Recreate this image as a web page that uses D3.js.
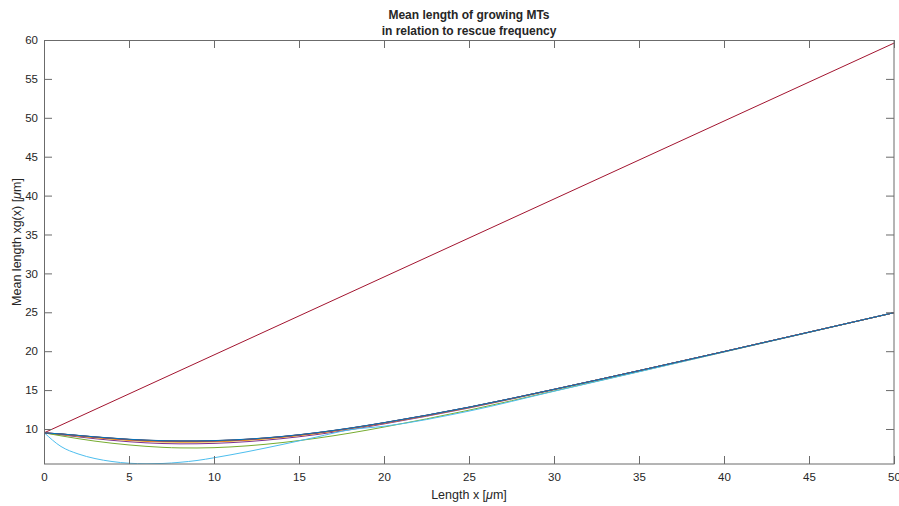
<!DOCTYPE html>
<html>
<head>
<meta charset="utf-8">
<script src="https://cdn.jsdelivr.net/npm/d3@7"></script>
<style>
  body { margin: 0; background: #fff; }
  svg text { font-family: "Liberation Sans", Arial, sans-serif; fill: #262626; }
</style>
</head>
<body>
<div id="chart"></div>
<script>
// x positions (um) where curves were read
var xs = [0, 1, 2, 3, 4, 5, 6, 7, 8, 9, 10, 12, 14, 16, 18, 20, 25, 30, 35, 40, 45, 50];
// mean length for each rescue frequency
var blue1   = [9.5, 9.36, 9.17, 8.98, 8.81, 8.66, 8.55, 8.48, 8.45, 8.45, 8.49, 8.68, 9.02, 9.5, 10.1, 10.8, 12.8, 15.1, 17.5, 19.95, 22.45, 24.95];
var orange1 = [9.5, 9.33, 9.13, 8.93, 8.75, 8.6, 8.48, 8.41, 8.38, 8.38, 8.42, 8.62, 8.97, 9.45, 10.06, 10.77, 12.78, 15.09, 17.5, 19.95, 22.45, 24.95];
var yellow1 = [9.5, 9.3, 9.08, 8.87, 8.68, 8.52, 8.4, 8.32, 8.29, 8.3, 8.34, 8.55, 8.91, 9.4, 10.02, 10.74, 12.76, 15.08, 17.5, 19.95, 22.45, 24.95];
var purple1 = [9.5, 9.25, 8.99, 8.75, 8.54, 8.36, 8.22, 8.13, 8.09, 8.1, 8.15, 8.38, 8.76, 9.27, 9.91, 10.65, 12.7, 15.05, 17.48, 19.94, 22.44, 24.95];
var green1  = [9.5, 9.12, 8.76, 8.44, 8.17, 7.95, 7.77, 7.64, 7.57, 7.56, 7.6, 7.84, 8.25, 8.8, 9.47, 10.25, 12.42, 14.88, 17.38, 19.9, 22.42, 24.95];
var cyan1   = [9.55, 7.75, 6.8, 6.2, 5.82, 5.6, 5.53, 5.57, 5.72, 5.95, 6.3, 7.1, 8.0, 8.95, 9.9, 10.35, 12.3, 14.85, 17.35, 19.9, 22.42, 24.98];
var purple2 = [9.5, 9.36, 9.16, 8.97, 8.8, 8.65, 8.54, 8.47, 8.44, 8.44, 8.48, 8.67, 9.01, 9.49, 10.09, 10.8, 12.8, 15.1, 17.5, 19.95, 22.45, 24.95];
var orange2 = [9.5, 9.37, 9.17, 8.98, 8.82, 8.67, 8.56, 8.49, 8.46, 8.46, 8.5, 8.69, 9.03, 9.51, 10.11, 10.81, 12.8, 15.1, 17.5, 19.95, 22.45, 24.95];
var blue2   = [9.5, 9.37, 9.18, 8.99, 8.83, 8.68, 8.57, 8.5, 8.47, 8.47, 8.51, 8.7, 9.04, 9.52, 10.12, 10.82, 12.81, 15.1, 17.5, 19.95, 22.45, 24.95];
// the straight rescue-dominated line
var redX = [0, 50];
var red1 = [9.5, 59.6];

var xTicks = [0, 5, 10, 15, 20, 25, 30, 35, 40, 45, 50];
var yTicks = [10, 15, 20, 25, 30, 35, 40, 45, 50, 55, 60];

// matlab default line colours
var colors = ['#0072BD', '#D95319', '#EDB120', '#7E2F8E', '#77AC30', '#4DBEEE', '#A2142F'];

var series = [
  {x: xs, y: purple1, c: colors[3]},
  {x: xs, y: yellow1, c: colors[2]},
  {x: xs, y: orange1, c: colors[1]},
  {x: xs, y: blue1, c: colors[0]},
  {x: xs, y: green1, c: colors[4]},
  {x: xs, y: cyan1, c: colors[5]},
  {x: redX, y: red1, c: colors[6]},
  {x: xs, y: purple2, c: colors[3]},
  {x: xs, y: orange2, c: colors[1]},
  {x: xs, y: blue2, c: colors[0]}
];

var W = 899, H = 506;
var m = {left: 44, right: 5, top: 40, bottom: 42};
var pw = W - m.left - m.right, ph = H - m.top - m.bottom;

var svg = d3.select("#chart").append("svg").attr("width", W).attr("height", H);

var x = d3.scaleLinear().domain([0, 50]).range([0, pw]);
var y = d3.scaleLinear().domain([5.5, 60]).range([ph, 0]);

var g = svg.append("g").attr("transform", "translate(" + m.left + "," + m.top + ")");

svg.append("defs").append("clipPath").attr("id", "clip")
  .append("rect").attr("width", pw).attr("height", ph);

var line = d3.line().curve(d3.curveMonotoneX);

g.append("g").attr("clip-path", "url(#clip)")
  .selectAll("path")
  .data(series)
  .enter()
  .append("path")
  .attr("d", function(s){
    return line(s.x.map(function(v, i){ return [x(v), y(s.y[i])]; }));
  })
  .attr("fill", "none")
  .attr("stroke", function(s){ return s.c; })
  .attr("stroke-width", 1);

// axes, ticks inward like matlab, box on
function styleAxis(sel){
  sel.select(".domain").remove();
  sel.selectAll("line").attr("stroke", "#6b6b6b");
  sel.selectAll("text").attr("font-size", "11.5px").attr("fill", "#262626")
    .attr("font-family", "Liberation Sans, Arial, sans-serif");
}

g.append("g").attr("transform", "translate(0," + ph + ")")
  .call(d3.axisBottom(x).tickValues(xTicks).tickSizeInner(-8).tickSizeOuter(0).tickPadding(9))
  .call(styleAxis);
g.append("g")
  .call(d3.axisTop(x).tickValues(xTicks).tickSizeInner(-8).tickSizeOuter(0).tickFormat(""))
  .call(styleAxis);
g.append("g")
  .call(d3.axisLeft(y).tickValues(yTicks).tickSizeInner(-8).tickSizeOuter(0).tickPadding(6))
  .call(styleAxis);
g.append("g").attr("transform", "translate(" + pw + ",0)")
  .call(d3.axisRight(y).tickValues(yTicks).tickSizeInner(-8).tickSizeOuter(0).tickFormat(""))
  .call(styleAxis);

g.append("rect").attr("x", 0.5).attr("y", 0.5).attr("width", pw - 0.5).attr("height", ph - 0.5)
  .attr("fill", "none").attr("stroke", "#6b6b6b").attr("stroke-width", 1);

// title
var t = svg.append("text").attr("x", m.left + pw / 2).attr("text-anchor", "middle")
  .attr("font-size", "12px").attr("font-weight", "bold");
t.append("tspan").attr("x", m.left + pw / 2).attr("y", 19).text("Mean length of growing MTs");
t.append("tspan").attr("x", m.left + pw / 2).attr("y", 35).text("in relation to rescue frequency");

// axis labels
var xl = svg.append("text").attr("x", m.left + pw / 2).attr("y", 499)
  .attr("text-anchor", "middle").attr("font-size", "12.5px");
xl.append("tspan").text("Length x [");
xl.append("tspan").attr("font-style", "italic").text("\u03bc");
xl.append("tspan").text("m]");

var yl = svg.append("text").attr("transform", "translate(21,242) rotate(-90)")
  .attr("text-anchor", "middle").attr("font-size", "12.5px");
yl.append("tspan").text("Mean length xg(x) [");
yl.append("tspan").attr("font-style", "italic").text("\u03bc");
yl.append("tspan").text("m]");
</script>
</body>
</html>
